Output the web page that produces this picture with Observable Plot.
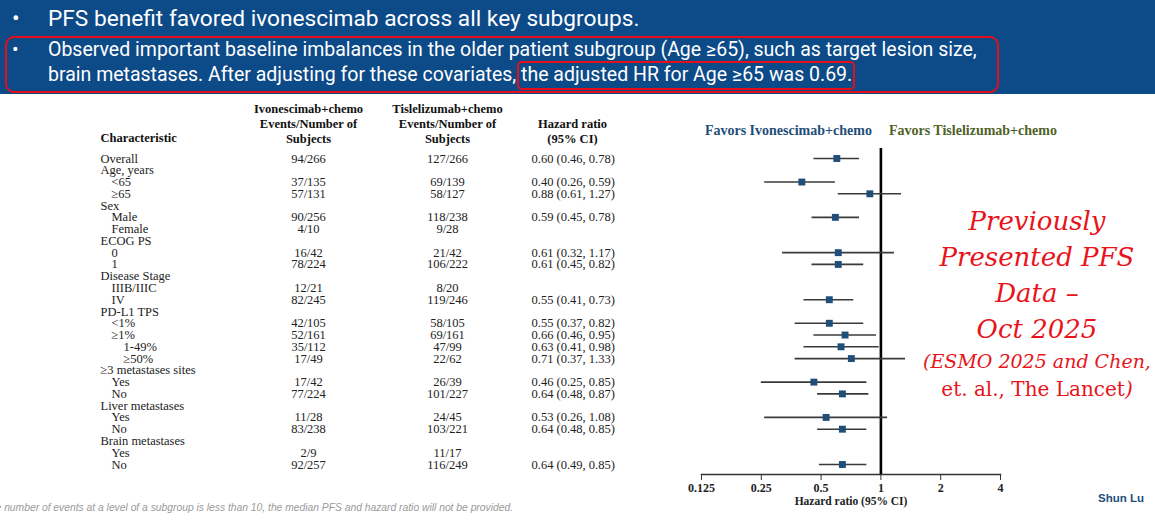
<!DOCTYPE html>
<html>
<head>
<meta charset="utf-8">
<script src="https://cdn.jsdelivr.net/npm/d3@7"></script>
<script src="https://cdn.jsdelivr.net/npm/@observablehq/plot@0.6"></script>
<style>
  html, body { margin: 0; padding: 0; background: #fff; }
  #page { position: relative; width: 1155px; height: 532px; overflow: hidden; background: #fff; }
  #banner { position: absolute; left: 0; top: 0; width: 1155px; height: 94px; background: #0d4a88; }
  .bl { position: absolute; color: #fff; font-family: Roboto, "Noto Sans", sans-serif; white-space: nowrap; line-height: 1.15; }
  .box { position: absolute; border: 2.5px solid #e3101c; box-sizing: border-box; }
  .hl { position: relative; }
  .hl .box { left: -4px; right: -3px; top: -2px; bottom: -4px; border-radius: 5px; }
  .red { position: absolute; width: 420px; text-align: center; color: #e8131b; font-family: "DejaVu Serif", serif; font-style: italic; white-space: nowrap; }
  #tablePlot, #forestPlot { position: absolute; top: 95px; }
  #tablePlot { left: 0; }
  #forestPlot { left: 680px; }
  #foot { position: absolute; right: 642px; top: 502px; font-family: "Liberation Sans", Arial, sans-serif; font-style: italic; font-size: 10.3px; color: #9a9a9a; white-space: nowrap; }
  #author { position: absolute; left: 1098px; top: 492px; font-family: "Liberation Sans", Arial, sans-serif; font-weight: bold; font-size: 11.5px; color: #1f4e79; }
  svg g[aria-label="x-axis tick label"] text { font-weight: bold; }
</style>
</head>
<body>
<div id="page">
  <div id="banner">
    <div class="bl" style="left:12px; top:6px; font-size:22.7px;">•</div>
    <div class="bl" style="left:48px; top:6px; font-size:22.7px;">PFS benefit favored ivonescimab across all key subgroups.</div>
    <div class="bl" style="left:12px; top:39px; font-size:19.5px;">•</div>
    <div class="bl" style="left:48px; top:39px; font-size:19.5px;">Observed important baseline imbalances in the older patient subgroup (Age ≥65), such as target lesion size,</div>
    <div class="bl" style="left:48px; top:64px; font-size:19.5px;">brain metastases. After adjusting for these covariates, <span class="hl">the adjusted HR for Age ≥65 was 0.69.<span class="box"></span></span></div>
    <div class="box" style="left:5px; top:36px; width:994px; height:57px; border-radius:9px;"></div>
  </div>
  <div id="tablePlot"></div>
  <div id="forestPlot"></div>
  <div class="red" style="left:827px; top:206px; font-size:26px;">Previously</div>
  <div class="red" style="left:827px; top:242px; font-size:26px;">Presented PFS</div>
  <div class="red" style="left:827px; top:278px; font-size:26px;">Data –</div>
  <div class="red" style="left:827px; top:314px; font-size:26px;">Oct 2025</div>
  <div class="red" style="left:827px; top:350px; font-size:19px;">(ESMO 2025 and Chen,</div>
  <div class="red" style="left:827px; top:377px; font-size:20px; font-style:normal;">et. al., The Lancet<i>)</i></div>
  <div id="foot">If the number of events at a level of a subgroup is less than 10, the median PFS and hazard ratio will not be provided.</div>
  <div id="author">Shun Lu</div>
</div>
<script>
// ---- data ----
const characteristics = ["Overall","Age, years","<65","≥65","Sex","Male","Female","ECOG PS","0","1","Disease Stage","IIIB/IIIC","IV","PD-L1 TPS","<1%","≥1%","1-49%","≥50%","≥3 metastases sites","Yes","No","Liver metastases","Yes","No","Brain metastases","Yes","No"];
const levels = [0,0,1,1,0,1,1,0,1,1,0,1,1,0,1,1,2,2,0,1,1,0,1,1,0,1,1];
const ivoEvents = ["94/266","","37/135","57/131","","90/256","4/10","","16/42","78/224","","12/21","82/245","","42/105","52/161","35/112","17/49","","17/42","77/224","","11/28","83/238","","2/9","92/257"];
const tisEvents = ["127/266","","69/139","58/127","","118/238","9/28","","21/42","106/222","","8/20","119/246","","58/105","69/161","47/99","22/62","","26/39","101/227","","24/45","103/221","","11/17","116/249"];
const hr   = [0.60,null,0.40,0.88,null,0.59,null,null,0.61,0.61,null,null,0.55,null,0.55,0.66,0.63,0.71,null,0.46,0.64,null,0.53,0.64,null,null,0.64];
const ciLo = [0.46,null,0.26,0.61,null,0.45,null,null,0.32,0.45,null,null,0.41,null,0.37,0.46,0.41,0.37,null,0.25,0.48,null,0.26,0.48,null,null,0.49];
const ciHi = [0.78,null,0.59,1.27,null,0.78,null,null,1.17,0.82,null,null,0.73,null,0.82,0.95,0.98,1.33,null,0.85,0.87,null,1.08,0.85,null,null,0.85];
const headerCharacteristic = "Characteristic";
const headerIvo = "Ivonescimab+chemo\nEvents/Number of\nSubjects";
const headerTis = "Tislelizumab+chemo\nEvents/Number of\nSubjects";
const headerHR = "Hazard ratio\n(95% CI)";
const favorsLeft = "Favors Ivonescimab+chemo";
const favorsRight = "Favors Tislelizumab+chemo";
const xTicks = [0.125, 0.25, 0.5, 1, 2, 4];
const xLabel = "Hazard ratio (95% CI)";

const rows = characteristics.map((c, i) => ({
  row: i, label: c, level: levels[i], ivo: ivoEvents[i], tis: tisEvents[i],
  hr: hr[i], lo: ciLo[i], hi: ciHi[i],
  hrText: hr[i] == null ? "" : `${hr[i].toFixed(2)} (${ciLo[i].toFixed(2)}, ${ciHi[i].toFixed(2)})`
}));
const forestRows = rows.filter(d => d.hr != null);

const serif = "'Liberation Serif', 'Times New Roman', serif";
const yScale = {type: "linear", domain: [0, 26], range: [63, 369], axis: null};

// ---- table ----
const tableChart = Plot.plot({
  width: 680, height: 437,
  marginLeft: 0, marginRight: 0, marginTop: 0, marginBottom: 0,
  style: {fontFamily: serif, fontSize: "12.5px", color: "#222", background: "transparent"},
  y: yScale,
  marks: [
    Plot.text(rows.filter(d => d.level === 0), {y: "row", text: "label", frameAnchor: "left", dx: 100, textAnchor: "start", fill: "#222"}),
    Plot.text(rows.filter(d => d.level === 1), {y: "row", text: "label", frameAnchor: "left", dx: 111, textAnchor: "start", fill: "#222"}),
    Plot.text(rows.filter(d => d.level === 2), {y: "row", text: "label", frameAnchor: "left", dx: 123, textAnchor: "start", fill: "#222"}),
    Plot.text(rows, {y: "row", text: "ivo", frameAnchor: "left", dx: 308, textAnchor: "middle", fill: "#222"}),
    Plot.text(rows, {y: "row", text: "tis", frameAnchor: "left", dx: 447, textAnchor: "middle", fill: "#222"}),
    Plot.text(rows, {y: "row", text: "hrText", frameAnchor: "left", dx: 531, textAnchor: "start", fill: "#222"}),
    Plot.text([headerCharacteristic], {y: () => -1.7, text: d => d, frameAnchor: "left", dx: 100, textAnchor: "start", fontWeight: "bold", fill: "#111"}),
    Plot.text([headerIvo], {y: () => -2.97, text: d => d, frameAnchor: "left", dx: 308, textAnchor: "middle", lineHeight: 1.2, fontWeight: "bold", fill: "#111"}),
    Plot.text([headerTis], {y: () => -2.97, text: d => d, frameAnchor: "left", dx: 447, textAnchor: "middle", lineHeight: 1.2, fontWeight: "bold", fill: "#111"}),
    Plot.text([headerHR], {y: () => -2.34, text: d => d, frameAnchor: "left", dx: 572, textAnchor: "middle", lineHeight: 1.2, fontWeight: "bold", fill: "#111"})
  ]
});
document.getElementById("tablePlot").appendChild(tableChart);

// ---- forest ----
const forestChart = Plot.plot({
  width: 475, height: 437,
  marginLeft: 21, marginRight: 155, marginTop: 53, marginBottom: 58,
  style: {fontFamily: serif, fontSize: "12px", color: "#222", background: "transparent"},
  x: {type: "log", domain: [0.125, 4]},
  y: yScale,
  marks: [
    Plot.frame({anchor: "bottom", stroke: "#333", strokeWidth: 1.5}),
    Plot.axisX({ticks: xTicks, tickFormat: d => String(d), tickSize: 6, tickPadding: 3, label: null, fontWeight: "bold", fontSize: 12, stroke: "#333"}),
    Plot.text([xLabel], {text: d => d, frameAnchor: "bottom", dy: 30, fontWeight: "bold", fontSize: 11.5, fill: "#222"}),
    Plot.ruleX([1], {stroke: "#000", strokeWidth: 2.6}),
    Plot.ruleY(forestRows, {y: "row", x1: "lo", x2: "hi", stroke: "#3a3a3a", strokeWidth: 1.6}),
    Plot.dot(forestRows, {x: "hr", y: "row", symbol: "square", r: 3.9, fill: "#1f4e79", stroke: "none"}),
    Plot.text([favorsLeft], {x: () => 1, y: () => -2.4, text: d => d, textAnchor: "end", dx: -9, fontWeight: "bold", fontSize: 14, fill: "#1f4e79"}),
    Plot.text([favorsRight], {x: () => 1, y: () => -2.4, text: d => d, textAnchor: "start", dx: 8, fontWeight: "bold", fontSize: 14, fill: "#4f6228"})
  ]
});
document.getElementById("forestPlot").appendChild(forestChart);
</script>
</body>
</html>
